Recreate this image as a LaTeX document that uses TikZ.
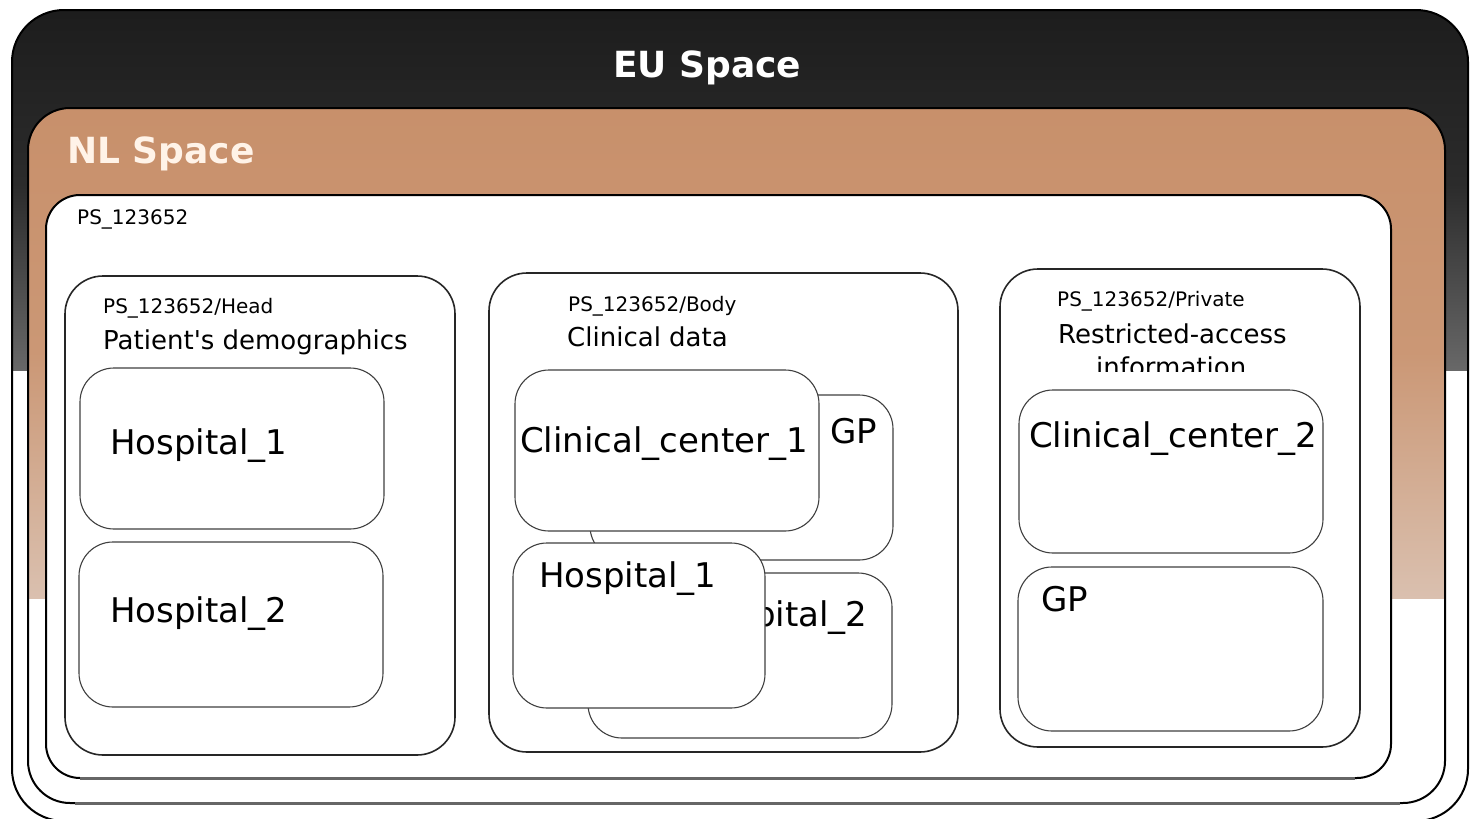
\documentclass[tikz,border=0pt]{standalone}
\usepackage{fontspec}
\setmainfont{DejaVu Sans}
\begin{document}
\begin{tikzpicture}[x=1pt,y=-1pt,
  outerbox/.style={draw=black,line width=2pt},
  panel/.style={draw=black!85,line width=1.6pt,fill=white,rounded corners=38pt},
  inbox/.style={draw=black!75,line width=1.1pt,fill=white,rounded corners=34pt},
  big/.style={anchor=base west,inner sep=0pt,font=\fontsize{34}{40}\selectfont},
  mid/.style={anchor=base west,inner sep=0pt,font=\fontsize{26}{30}\selectfont},
  small/.style={anchor=base west,inner sep=0pt,font=\fontsize{20}{24}\selectfont},
  title/.style={anchor=base west,inner sep=0pt,font=\fontsize{36}{42}\selectfont\bfseries}]
\useasboundingbox (0,0) rectangle (1470,819);
\definecolor{orangeA}{HTML}{C8906B}
\definecolor{orangeB}{HTML}{DAC0AF}
\definecolor{darkA}{HTML}{1C1C1C}
\definecolor{darkB}{HTML}{686868}
% EU box
\fill[white,rounded corners=52pt] (12,10) rectangle (1468,821);
\begin{scope}
  \clip[rounded corners=52pt] (12,10) rectangle (1468,821);
  \shade[top color=darkA,bottom color=darkB,middle color=darkA!80!darkB] (0,0) rectangle (1470,370);
\end{scope}
\draw[outerbox,rounded corners=52pt] (12,10) rectangle (1468,821);
\node[title,text=white] (eu) at (613,77) {EU Space};
% NL box
\fill[white,rounded corners=42pt] (28,108) rectangle (1445,803);
\begin{scope}
  \clip[rounded corners=42pt] (28,108) rectangle (1445,803);
  \shade[top color=orangeA,bottom color=orangeB,middle color=orangeA!85!orangeB] (0,108) rectangle (1470,598);
\end{scope}
\draw[outerbox,rounded corners=42pt] (28,108) rectangle (1445,803);
\draw[line width=3pt,color=black!60] (75,803) -- (1400,803);
\node[title,text={rgb,255:red,255;green,243;blue,232}] (nl) at (67,163) {NL Space};
% PS box
\draw[outerbox,fill=white,rounded corners=34pt] (46,195) rectangle (1391,778);
\draw[line width=3pt,color=black!60] (80,778) -- (1355,778);
\node[small] (ps) at (77,224) {PS\_123652};
% Head
\draw[panel] (65,276) rectangle (455,755);
\node[small] (headid) at (103,313) {PS\_123652/Head};
\node[mid] (headt) at (103,349) {Patient\textquotesingle s demographics};
\draw[inbox] (80,368) rectangle (384,529);
\node[big] (hh1) at (110,454) {Hospital\_1};
\draw[inbox] (79,542) rectangle (383,707);
\node[big] (hh2) at (110,622) {Hospital\_2};
% Body
\draw[panel] (489,273) rectangle (958,752);
\node[small] (bodyid) at (568,311) {PS\_123652/Body};
\node[mid] (bodyt) at (567,346) {Clinical data};
\draw[inbox] (590,395) rectangle (893,560);
\node[big] (bgp) at (830,443) {GP};
\draw[inbox] (515,370) rectangle (819,531);
\node[big] (bcc1) at (520,452) {Clinical\_center\_1};
\draw[inbox] (588,573) rectangle (892,738);
\node[big] (bh2) at (690,626) {Hospital\_2};
\draw[inbox] (513,543) rectangle (765,708);
\node[big] (bh1) at (539,587) {Hospital\_1};
% Private
\draw[panel] (1000,269) rectangle (1360,747);
\node[small] (privid) at (1057,306) {PS\_123652/Private};
\node[mid] (privt) at (1058,343) {Restricted-access};
\begin{scope}
  \clip (1000,340) rectangle (1360,371);
  \node[mid] (privt2) at (1096,376) {information};
\end{scope}
\draw[inbox] (1019,390) rectangle (1323,553);
\node[big] (pcc2) at (1029,447) {Clinical\_center\_2};
\draw[inbox] (1018,567) rectangle (1323,731);
\node[big] (pgp) at (1041,611) {GP};
\end{tikzpicture}
\end{document}
